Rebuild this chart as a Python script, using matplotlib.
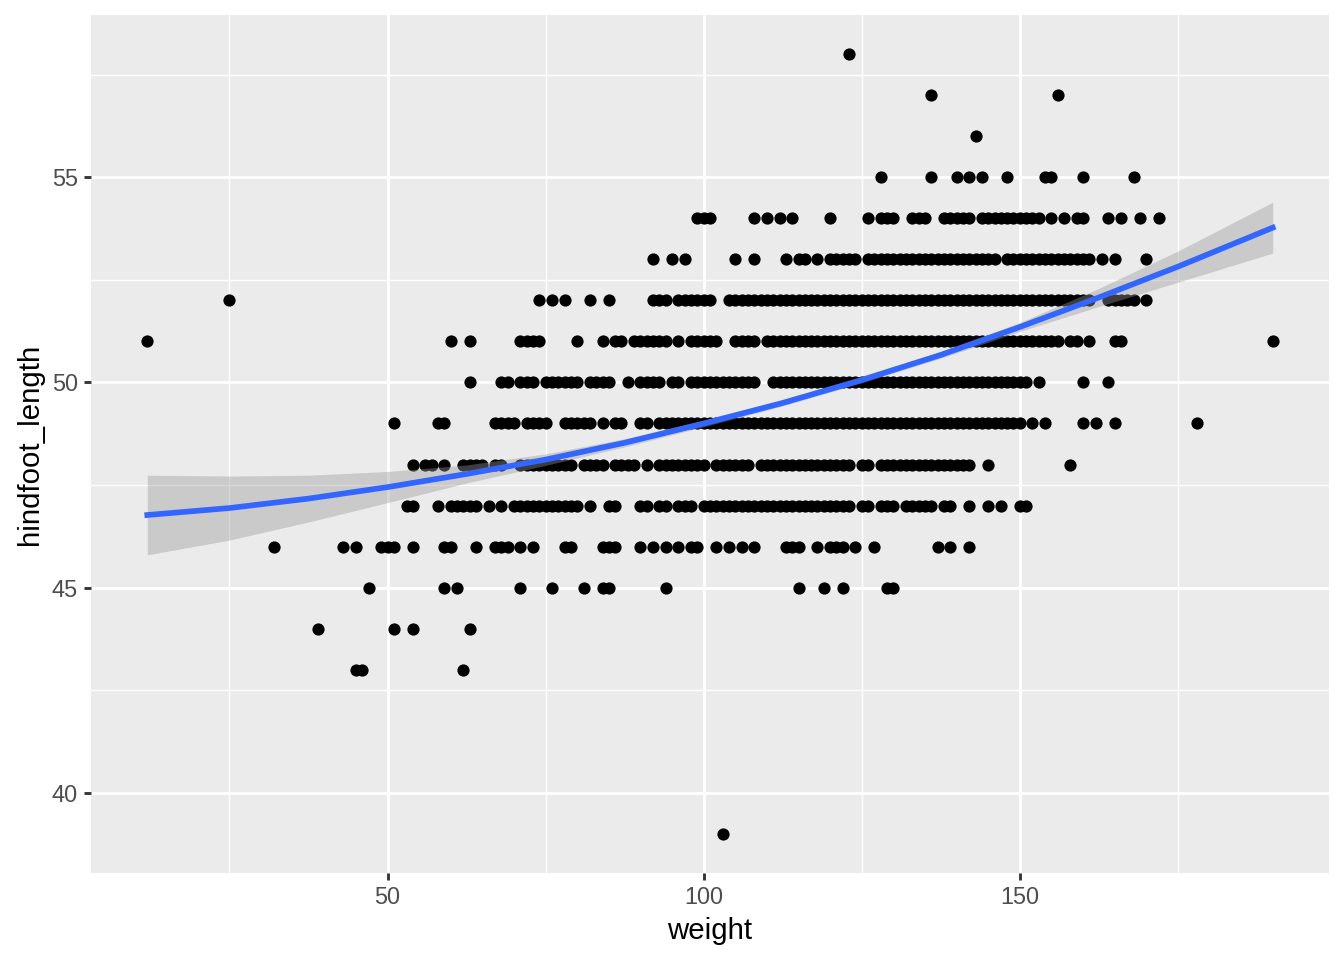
import numpy as np
import matplotlib
matplotlib.use('Agg')
import matplotlib.pyplot as plt

plt.rcParams['font.family'] = ['Liberation Sans', 'DejaVu Sans']

# weight values per hindfoot_length row, as [start, end] runs (start == end for a lone point)
rows = {
    58: [[123, 123]],
    57: [[136, 136], [156, 156]],
    56: [[143, 143]],
    55: [[128, 128], [136, 136], [140, 140], [142, 142], [144, 144], [148, 148],
         [154, 155], [160, 160], [168, 168]],
    54: [[99, 101], [108, 108], [110, 110], [112, 112], [114, 114], [120, 120],
         [126, 126], [128, 130], [133, 135], [138, 142], [144, 153], [155, 155],
         [157, 157], [159, 160], [164, 164], [166, 166], [169, 169], [172, 172]],
    53: [[92, 92], [95, 95], [97, 97], [105, 105], [108, 108], [113, 113],
         [115, 116], [118, 118], [120, 124], [126, 129], [130, 146], [148, 161],
         [163, 163], [165, 165], [170, 170]],
    52: [[25, 25], [74, 74], [76, 76], [78, 78], [82, 82], [85, 85], [92, 94],
         [96, 101], [104, 161], [164, 168], [170, 170]],
    51: [[12, 12], [60, 60], [63, 63], [71, 74], [80, 80], [84, 84], [86, 87],
         [89, 94], [96, 96], [98, 102], [105, 108], [110, 156], [158, 159],
         [161, 161], [165, 166], [190, 190]],
    50: [[63, 63], [68, 69], [71, 73], [75, 80], [82, 85], [88, 88], [90, 93],
         [95, 96], [98, 108], [111, 151], [153, 153], [160, 160], [164, 164]],
    49: [[51, 51], [58, 59], [67, 70], [72, 75], [78, 82], [84, 84], [86, 87],
         [90, 91], [93, 150], [152, 152], [154, 154], [160, 160], [162, 162],
         [165, 165], [178, 178]],
    48: [[54, 54], [56, 57], [59, 59], [62, 65], [67, 68], [71, 79], [81, 84],
         [86, 89], [91, 91], [93, 100], [102, 107], [109, 123], [125, 126],
         [128, 142], [145, 145], [158, 158]],
    47: [[53, 54], [58, 58], [60, 64], [66, 66], [68, 68], [70, 80], [82, 82],
         [85, 86], [90, 91], [93, 94], [96, 98], [100, 123], [125, 126],
         [128, 130], [132, 136], [138, 139], [142, 142], [145, 145], [147, 147],
         [150, 151]],
    46: [[32, 32], [43, 43], [45, 45], [49, 51], [54, 54], [59, 60], [64, 64],
         [67, 69], [71, 71], [73, 73], [78, 79], [84, 86], [90, 90], [92, 92],
         [94, 94], [96, 96], [98, 99], [102, 102], [104, 104], [106, 106],
         [108, 108], [113, 115], [118, 118], [120, 122], [124, 124], [127, 127],
         [137, 137], [139, 139], [142, 142]],
    45: [[47, 47], [59, 59], [61, 61], [71, 71], [76, 76], [81, 81], [84, 85],
         [94, 94], [115, 115], [119, 119], [122, 122], [129, 130]],
    44: [[39, 39], [51, 51], [54, 54], [63, 63]],
    43: [[45, 46], [62, 62]],
    39: [[103, 103]],
}

# smoother
fit_x = [12, 25, 37.5, 50, 62.5, 75, 87.5, 100, 112.5, 125, 137.5, 150, 162.5, 175, 190]
fit_y = [46.77, 46.94, 47.17, 47.45, 47.77, 48.12, 48.53, 49.0, 49.50, 50.06,
         50.67, 51.35, 52.07, 52.82, 53.77]
fit_lo = [45.80, 46.16, 46.60, 47.07, 47.55, 47.98, 48.43, 48.92, 49.43, 49.99,
          50.59, 51.24, 51.85, 52.44, 53.15]
fit_hi = [47.74, 47.72, 47.74, 47.83, 47.99, 48.26, 48.63, 49.08, 49.57, 50.13,
          50.75, 51.46, 52.29, 53.20, 54.39]

weight = []
hindfoot = []
for hf, runs in rows.items():
    for a, b in runs:
        for w in range(a, b + 1):
            weight.append(w)
            hindfoot.append(hf)

fig = plt.figure(figsize=(7, 5), dpi=192)
ax = fig.add_axes([91 / 1344, 87 / 960, 1238 / 1344, 858 / 960])
ax.set_facecolor('#EBEBEB')
for s in ax.spines.values():
    s.set_visible(False)

ax.scatter(weight, hindfoot, s=21, color='black', linewidths=0, zorder=3)
ax.fill_between(fit_x, fit_lo, fit_hi, color='#999999', alpha=0.4, lw=0, zorder=4)
ax.plot(fit_x, fit_y, color='#3366FF', lw=2.13, zorder=5)

ax.set_xlim(3.1, 198.9)
ax.set_ylim(38.05, 58.95)
ax.set_xticks([50, 100, 150])
ax.set_xticks([25, 75, 125, 175], minor=True)
ax.set_yticks([40, 45, 50, 55])
ax.set_yticks([42.5, 47.5, 52.5, 57.5], minor=True)
ax.grid(which='major', color='white', lw=1.07, zorder=0)
ax.grid(which='minor', color='white', lw=0.53, zorder=0)
ax.set_axisbelow(True)
ax.tick_params(which='major', length=2.75, width=1.07, color='#333333',
               labelcolor='#4D4D4D', labelsize=8.8, pad=2.2)
ax.tick_params(which='minor', length=0)

ax.set_xlabel('weight', fontsize=11, labelpad=2.75)
ax.set_ylabel('hindfoot_length', fontsize=11, labelpad=2.75)

fig.savefig('out.png', dpi=192)
